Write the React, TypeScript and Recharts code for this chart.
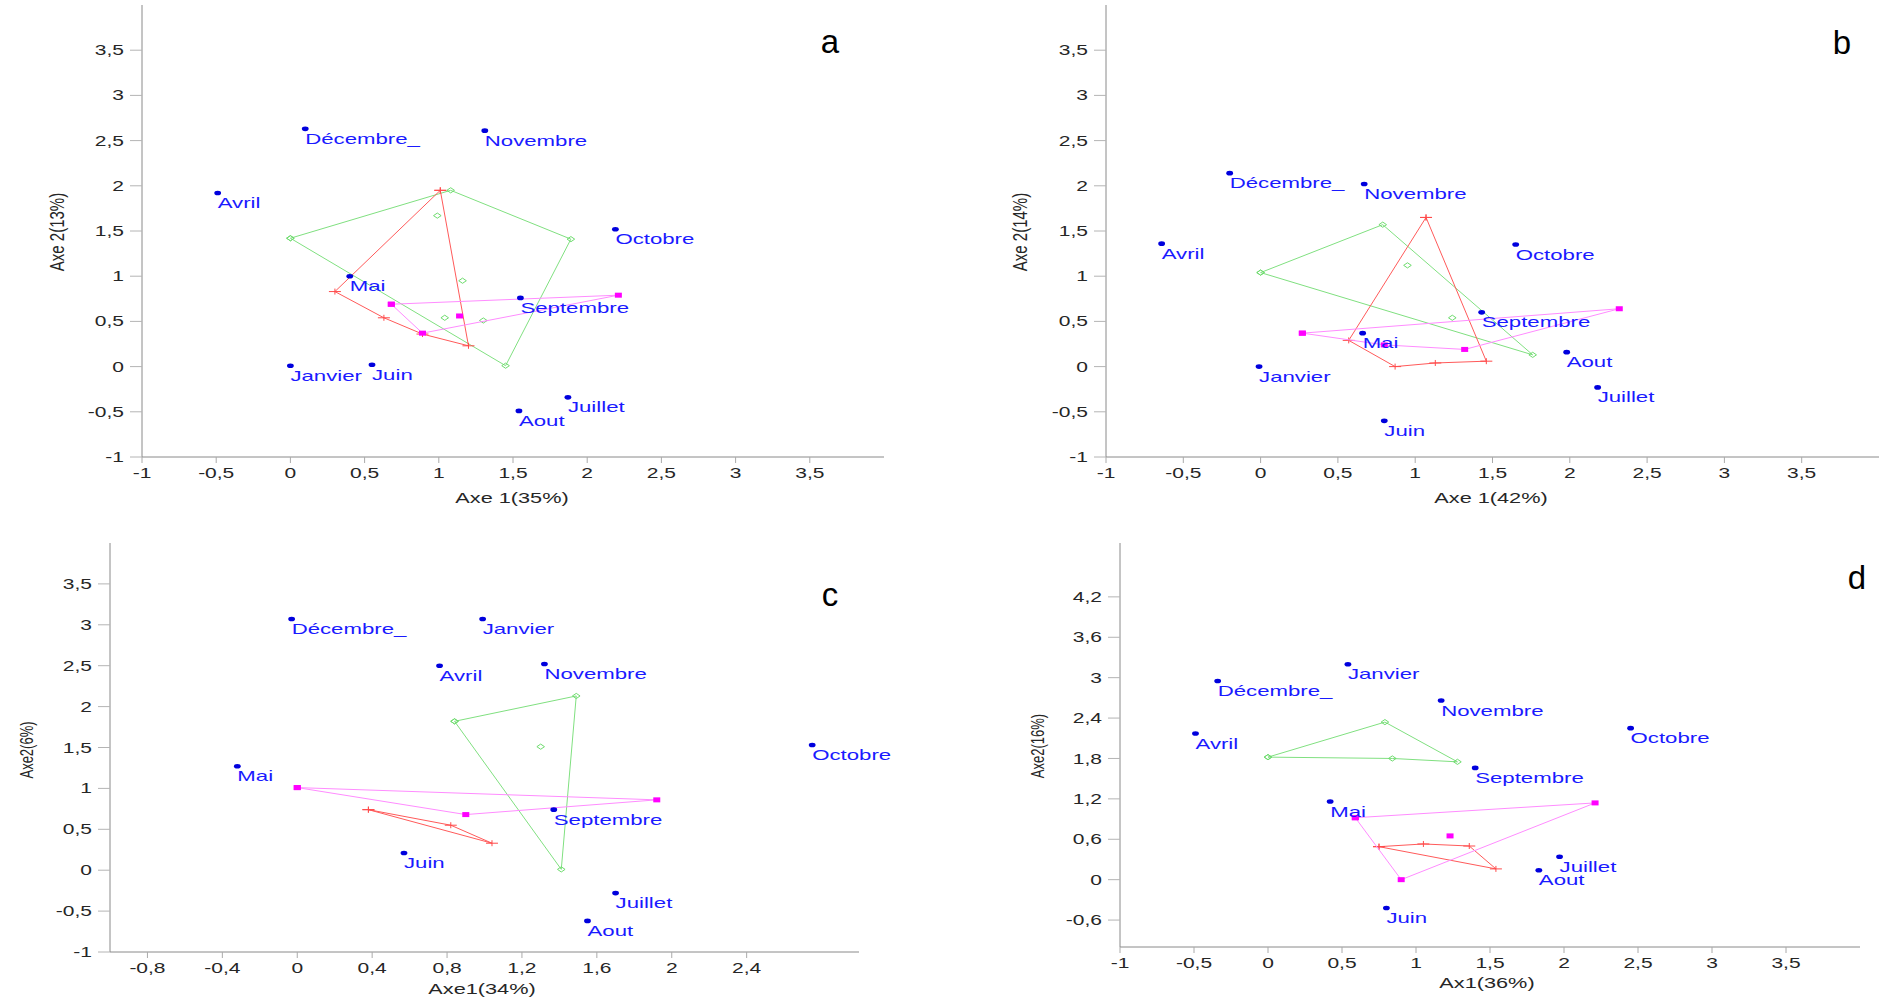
import { ScatterChart, Scatter, XAxis, YAxis } from "recharts";

type Pt = { x: number; y: number; name?: string };

// ---- panel a ----
const aMonths: Pt[] = [
  { name: "Janvier", x: 0.0, y: 0.01 },
  { name: "Avril", x: -0.49, y: 1.92 },
  { name: "Mai", x: 0.4, y: 1.0 },
  { name: "Juin", x: 0.55, y: 0.02 },
  { name: "Juillet", x: 1.87, y: -0.34 },
  { name: "Aout", x: 1.54, y: -0.49 },
  { name: "Septembre", x: 1.55, y: 0.76 },
  { name: "Octobre", x: 2.19, y: 1.52 },
  { name: "Novembre", x: 1.31, y: 2.61 },
  { name: "Décembre_", x: 0.1, y: 2.63 },
];
const aGreen: Pt[] = [{ x: 0, y: 1.42 }, { x: 1.08, y: 1.95 }, { x: 1.89, y: 1.41 }, { x: 1.45, y: 0.01 }];
const aGreenIn: Pt[] = [{ x: 0.99, y: 1.67 }, { x: 1.16, y: 0.95 }, { x: 1.04, y: 0.54 }, { x: 1.3, y: 0.51 }];
const aRed: Pt[] = [{ x: 1.01, y: 1.95 }, { x: 0.3, y: 0.83 }, { x: 0.63, y: 0.54 }, { x: 0.89, y: 0.36 }, { x: 1.2, y: 0.23 }];
const aMagenta: Pt[] = [{ x: 0.68, y: 0.69 }, { x: 2.21, y: 0.79 }, { x: 0.89, y: 0.37 }];
const aMagentaIn: Pt[] = [{ x: 1.14, y: 0.56 }];

// ---- panel b ----
const bMonths: Pt[] = [
  { name: "Janvier", x: -0.01, y: 0.0 },
  { name: "Avril", x: -0.64, y: 1.36 },
  { name: "Mai", x: 0.66, y: 0.37 },
  { name: "Juin", x: 0.8, y: -0.6 },
  { name: "Juillet", x: 2.18, y: -0.23 },
  { name: "Aout", x: 1.98, y: 0.16 },
  { name: "Septembre", x: 1.43, y: 0.6 },
  { name: "Octobre", x: 1.65, y: 1.35 },
  { name: "Novembre", x: 0.67, y: 2.02 },
  { name: "Décembre_", x: -0.2, y: 2.14 },
];
const bGreen: Pt[] = [{ x: 0, y: 1.04 }, { x: 0.79, y: 1.57 }, { x: 1.76, y: 0.13 }];
const bGreenIn: Pt[] = [{ x: 0.95, y: 1.12 }, { x: 1.24, y: 0.54 }];
const bRed: Pt[] = [{ x: 1.07, y: 1.65 }, { x: 0.57, y: 0.29 }, { x: 0.87, y: 0.0 }, { x: 1.13, y: 0.04 }, { x: 1.46, y: 0.06 }];
const bMagenta: Pt[] = [{ x: 0.27, y: 0.37 }, { x: 2.32, y: 0.64 }, { x: 1.32, y: 0.19 }, { x: 0.8, y: 0.24 }];

// ---- panel c ----
const cMonths: Pt[] = [
  { name: "Janvier", x: 0.99, y: 3.07 },
  { name: "Avril", x: 0.76, y: 2.5 },
  { name: "Mai", x: -0.32, y: 1.27 },
  { name: "Juin", x: 0.57, y: 0.21 },
  { name: "Juillet", x: 1.7, y: -0.28 },
  { name: "Aout", x: 1.55, y: -0.62 },
  { name: "Septembre", x: 1.37, y: 0.74 },
  { name: "Octobre", x: 2.75, y: 1.53 },
  { name: "Novembre", x: 1.32, y: 2.52 },
  { name: "Décembre_", x: -0.03, y: 3.07 },
];
const cGreen: Pt[] = [{ x: 0.84, y: 1.82 }, { x: 1.49, y: 2.13 }, { x: 1.41, y: 0.01 }];
const cGreenIn: Pt[] = [{ x: 1.3, y: 1.51 }];
const cRed: Pt[] = [{ x: 0.38, y: 0.74 }, { x: 0.82, y: 0.55 }, { x: 1.04, y: 0.33 }];
const cMagenta: Pt[] = [{ x: 0.0, y: 1.01 }, { x: 1.92, y: 0.86 }, { x: 0.9, y: 0.68 }];

// ---- panel d ----
const dMonths: Pt[] = [
  { name: "Janvier", x: 0.54, y: 3.2 },
  { name: "Avril", x: -0.49, y: 2.17 },
  { name: "Mai", x: 0.42, y: 1.16 },
  { name: "Juin", x: 0.8, y: -0.42 },
  { name: "Juillet", x: 1.97, y: 0.34 },
  { name: "Aout", x: 1.83, y: 0.14 },
  { name: "Septembre", x: 1.4, y: 1.66 },
  { name: "Octobre", x: 2.45, y: 2.25 },
  { name: "Novembre", x: 1.17, y: 2.66 },
  { name: "Décembre_", x: -0.34, y: 2.95 },
];
const dGreen: Pt[] = [{ x: 0, y: 1.82 }, { x: 0.79, y: 2.34 }, { x: 1.28, y: 1.75 }, { x: 0.84, y: 1.8 }];
const dRed: Pt[] = [{ x: 0.75, y: 0.49 }, { x: 1.05, y: 0.53 }, { x: 1.36, y: 0.5 }, { x: 1.54, y: 0.16 }];
const dMagenta: Pt[] = [{ x: 0.59, y: 0.92 }, { x: 2.21, y: 1.14 }, { x: 0.9, y: 0.0 }];
const dMagentaIn: Pt[] = [{ x: 1.23, y: 0.65 }];

// ticks
const ticksHalf = [-1, -0.5, 0, 0.5, 1, 1.5, 2, 2.5, 3, 3.5];
const cXTicks = [-0.8, -0.4, 0, 0.4, 0.8, 1.2, 1.6, 2, 2.4];
const dYTicks = [-0.6, 0, 0.6, 1.2, 1.8, 2.4, 3, 3.6, 4.2];

const FONT = "'Liberation Sans', Arial, Helvetica, sans-serif";
const fmt = (v: number) => String(v).replace(".", ",");
const close = (pts: Pt[]) => [...pts, pts[0]];

function StretchTick(props: any) {
  const { x, y, payload, textAnchor, vertical } = props;
  return (
    <g transform={`translate(${x},${y})`}>
      <text
        transform="scale(1.5,1)"
        textAnchor={textAnchor}
        dy={vertical ? "0.36em" : "0.72em"}
        fontSize={14}
        fontFamily={FONT}
        fill="#262626"
      >
        {fmt(payload.value)}
      </text>
    </g>
  );
}

const monthShape = (p: any) => (
  <g transform={`translate(${p.cx},${p.cy})`}>
    <ellipse rx={3.4} ry={2.3} fill="#0000dd" />
    <text transform="scale(1.48,1)" x={0} y={15} fontSize={15} fontFamily={FONT} fill="#1a1aff">
      {p.payload.name}
    </text>
  </g>
);
const diamondShape = (p: any) => (
  <polygon
    points={`${p.cx - 3.8},${p.cy} ${p.cx},${p.cy - 2.6} ${p.cx + 3.8},${p.cy} ${p.cx},${p.cy + 2.6}`}
    fill="none"
    stroke="#6edc6e"
    strokeWidth={1}
  />
);
const plusShape = (p: any) => (
  <g stroke="#ff4a4a" strokeWidth={1}>
    <line x1={p.cx - 6} y1={p.cy} x2={p.cx + 6} y2={p.cy} />
    <line x1={p.cx} y1={p.cy - 3} x2={p.cx} y2={p.cy + 3} />
  </g>
);
const squareShape = (p: any) => <rect x={p.cx - 3.5} y={p.cy - 2.5} width={7} height={5} fill="#ff00ff" />;

interface Box {
  L: number;
  R: number;
  T: number;
  B: number;
}

function Panel(props: {
  box: Box;
  xDomain: [number, number];
  yDomain: [number, number];
  xTicks: number[];
  yTicks: number[];
  months: Pt[];
  green: Pt[];
  greenIn?: Pt[];
  red: Pt[];
  magenta: Pt[];
  magentaIn?: Pt[];
}) {
  const { box } = props;
  // extra room on the right so labels past the axis end are not clipped
  const W = box.R - box.L + 180;
  const H = box.B - box.T + 61;
  return (
    <div style={{ position: "absolute", left: box.L - 100, top: box.T - 6 }}>
      <ScatterChart width={W} height={H} margin={{ top: 6, right: 80, left: 40, bottom: 25 }}>
        <XAxis
          type="number"
          dataKey="x"
          domain={props.xDomain}
          ticks={props.xTicks}
          interval={0}
          height={30}
          tickSize={6}
          tickMargin={5}
          axisLine={{ stroke: "#8a8a8a" }}
          tickLine={{ stroke: "#aaaaaa" }}
          tick={(t: any) => <StretchTick {...t} />}
        />
        <YAxis
          type="number"
          dataKey="y"
          domain={props.yDomain}
          ticks={props.yTicks}
          interval={0}
          width={60}
          tickSize={12}
          tickMargin={6}
          axisLine={{ stroke: "#8a8a8a" }}
          tickLine={{ stroke: "#b4b4b4" }}
          tick={(t: any) => <StretchTick {...t} vertical />}
        />
        <Scatter data={close(props.green)} line={{ stroke: "#80e080", strokeWidth: 1 }} shape={diamondShape} isAnimationActive={false} />
        {props.greenIn && <Scatter data={props.greenIn} shape={diamondShape} isAnimationActive={false} />}
        <Scatter data={close(props.red)} line={{ stroke: "#ff5a5a", strokeWidth: 1 }} shape={plusShape} isAnimationActive={false} />
        <Scatter data={close(props.magenta)} line={{ stroke: "#ff8cff", strokeWidth: 1 }} shape={squareShape} isAnimationActive={false} />
        {props.magentaIn && <Scatter data={props.magentaIn} shape={squareShape} isAnimationActive={false} />}
        <Scatter data={props.months} shape={monthShape} isAnimationActive={false} />
      </ScatterChart>
    </div>
  );
}

function XTitle({ cx, baseline, text }: { cx: number; baseline: number; text: string }) {
  return (
    <div
      style={{
        position: "absolute",
        left: cx,
        top: baseline - 12,
        fontFamily: FONT,
        fontSize: 14,
        lineHeight: 1,
        color: "#262626",
        whiteSpace: "nowrap",
        transform: "translateX(-50%) scaleX(1.55)",
      }}
    >
      {text}
    </div>
  );
}

function YTitle({ cx, cy, text, size, sx }: { cx: number; cy: number; text: string; size: number; sx: number }) {
  return (
    <div
      style={{
        position: "absolute",
        left: cx,
        top: cy,
        fontFamily: FONT,
        fontSize: size,
        lineHeight: 1,
        color: "#262626",
        whiteSpace: "nowrap",
        transform: `translate(-50%,-50%) scaleX(${sx}) rotate(-90deg)`,
      }}
    >
      {text}
    </div>
  );
}

function Letter({ cx, baseline, text }: { cx: number; baseline: number; text: string }) {
  return (
    <div
      style={{
        position: "absolute",
        left: cx,
        top: baseline - 27.5,
        fontFamily: FONT,
        fontSize: 33,
        lineHeight: 1,
        color: "#000",
        transform: "translateX(-50%)",
      }}
    >
      {text}
    </div>
  );
}

export default function App() {
  return (
    <div
      style={{
        position: "absolute",
        left: 0,
        top: 0,
        width: 1886,
        height: 999,
        overflow: "hidden",
        background: "#fff",
      }}
    >
      <Panel
        box={{ L: 142, R: 884, T: 5, B: 457 }}
        xDomain={[-1, 4]}
        yDomain={[-1, 4]}
        xTicks={ticksHalf}
        yTicks={ticksHalf}
        months={aMonths}
        green={aGreen}
        greenIn={aGreenIn}
        red={aRed}
        magenta={aMagenta}
        magentaIn={aMagentaIn}
      />
      <Panel
        box={{ L: 1106, R: 1879, T: 5, B: 457 }}
        xDomain={[-1, 4]}
        yDomain={[-1, 4]}
        xTicks={ticksHalf}
        yTicks={ticksHalf}
        months={bMonths}
        green={bGreen}
        greenIn={bGreenIn}
        red={bRed}
        magenta={bMagenta}
      />
      <Panel
        box={{ L: 110, R: 859, T: 543, B: 952 }}
        xDomain={[-1, 3]}
        yDomain={[-1, 4]}
        xTicks={cXTicks}
        yTicks={ticksHalf}
        months={cMonths}
        green={cGreen}
        greenIn={cGreenIn}
        red={cRed}
        magenta={cMagenta}
      />
      <Panel
        box={{ L: 1120, R: 1860, T: 543, B: 947 }}
        xDomain={[-1, 4]}
        yDomain={[-1, 5]}
        xTicks={ticksHalf}
        yTicks={dYTicks}
        months={dMonths}
        green={dGreen}
        red={dRed}
        magenta={dMagenta}
        magentaIn={dMagentaIn}
      />

      <XTitle cx={512} baseline={503} text="Axe 1(35%)" />
      <XTitle cx={1491} baseline={503} text="Axe 1(42%)" />
      <XTitle cx={482} baseline={994} text="Axe1(34%)" />
      <XTitle cx={1487} baseline={988} text="Ax1(36%)" />

      <YTitle cx={57} cy={232} text="Axe 2(13%)" size={15} sx={1.3} />
      <YTitle cx={1020} cy={232} text="Axe 2(14%)" size={15} sx={1.3} />
      <YTitle cx={26} cy={750} text="Axe2(6%)" size={13} sx={1.45} />
      <YTitle cx={1037} cy={746} text="Axe2(16%)" size={13} sx={1.45} />

      <Letter cx={830} baseline={52} text="a" />
      <Letter cx={1842} baseline={53} text="b" />
      <Letter cx={830} baseline={605} text="c" />
      <Letter cx={1857} baseline={588} text="d" />
    </div>
  );
}
